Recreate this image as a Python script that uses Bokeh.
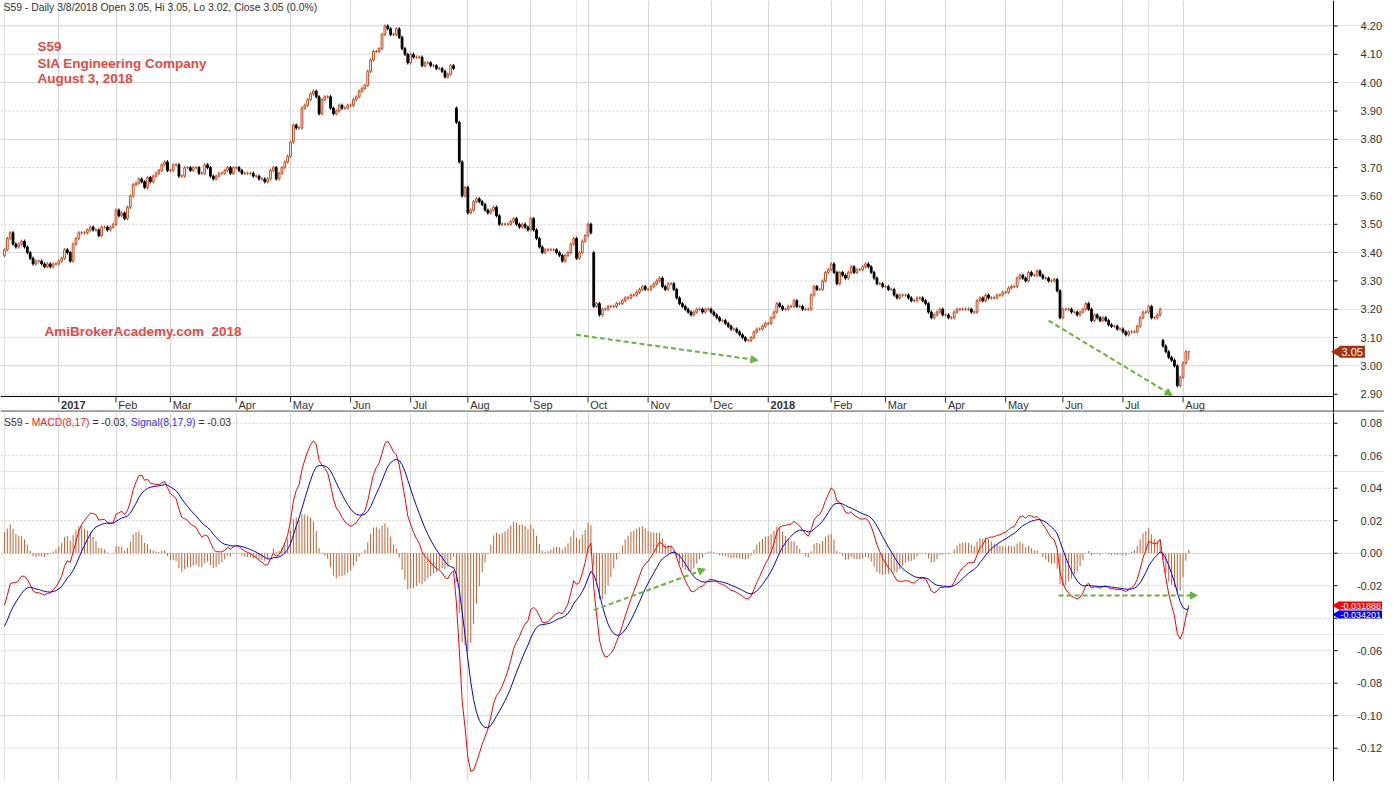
import numpy as np
from bokeh.plotting import figure
from bokeh.layouts import column
from bokeh.models import (Range1d, FixedTicker, Grid, Label, Arrow, NormalHead, ColumnDataSource)
from bokeh.core.properties import value
from bokeh.embed import file_html
from bokeh.resources import INLINE

# ---------------- data (daily closes, by month) ----------------
dec16 = [3.41, 3.45, 3.47, 3.43, 3.42, 3.43, 3.44, 3.42, 3.40, 3.38, 3.36, 3.37, 3.37, 3.36, 3.35, 3.36, 3.35, 3.36, 3.36]
jan17 = [3.37, 3.38, 3.41, 3.40, 3.37, 3.43, 3.45, 3.47, 3.47, 3.47, 3.48, 3.49, 3.48, 3.48, 3.46, 3.49, 3.49, 3.48, 3.49, 3.50]
feb17 = [3.55, 3.53, 3.54, 3.52, 3.56, 3.60, 3.64, 3.645, 3.66, 3.65, 3.63, 3.665, 3.65, 3.67, 3.68, 3.69, 3.71, 3.72, 3.69]
mar17 = [3.69, 3.71, 3.71, 3.67, 3.67, 3.70, 3.70, 3.69, 3.70, 3.70, 3.68, 3.68, 3.71, 3.70, 3.67, 3.66, 3.67, 3.68, 3.68, 3.69, 3.70, 3.68, 3.70]
apr17 = [3.70, 3.69, 3.68, 3.68, 3.68, 3.68, 3.67, 3.67, 3.66, 3.66, 3.65, 3.66, 3.69, 3.70, 3.66, 3.68, 3.70, 3.72, 3.74]
may17 = [3.79, 3.85, 3.84, 3.84, 3.91, 3.92, 3.94, 3.96, 3.97, 3.95, 3.89, 3.94, 3.95, 3.95, 3.91, 3.89, 3.90, 3.92, 3.91, 3.91, 3.92]
jun17 = [3.92, 3.94, 3.95, 3.97, 3.98, 3.99, 4.04, 4.08, 4.11, 4.11, 4.12, 4.17, 4.20, 4.19, 4.17, 4.17, 4.19, 4.16, 4.12, 4.10, 4.07]
jul17 = [4.10, 4.09, 4.09, 4.09, 4.06, 4.07, 4.07, 4.06, 4.06, 4.05, 4.05, 4.04, 4.02, 4.03, 4.06, 4.05, 3.86, 3.72, 3.60, 3.63]
aug17 = [3.54, 3.55, 3.58, 3.59, 3.58, 3.57, 3.55, 3.54, 3.55, 3.56, 3.53, 3.50, 3.50, 3.50, 3.50, 3.51, 3.52, 3.50, 3.49, 3.50, 3.49, 3.48]
sep17 = [3.52, 3.48, 3.45, 3.42, 3.40, 3.41, 3.41, 3.41, 3.41, 3.40, 3.39, 3.37, 3.39, 3.40, 3.43, 3.45, 3.38, 3.40, 3.44, 3.46]
oct17 = [3.50, 3.47, 3.21, 3.22, 3.18, 3.20, 3.20, 3.21, 3.21, 3.21, 3.22, 3.22, 3.23, 3.24, 3.24, 3.25, 3.25, 3.26, 3.27, 3.28, 3.27]
nov17 = [3.27, 3.28, 3.29, 3.30, 3.31, 3.28, 3.27, 3.29, 3.29, 3.27, 3.24, 3.22, 3.21, 3.20, 3.19, 3.18, 3.19, 3.20, 3.20, 3.19, 3.20, 3.20]
dec17 = [3.19, 3.18, 3.17, 3.16, 3.16, 3.15, 3.14, 3.13, 3.13, 3.12, 3.11, 3.10, 3.09, 3.09, 3.10, 3.12, 3.13, 3.13, 3.14, 3.15]
jan18 = [3.15, 3.17, 3.19, 3.22, 3.21, 3.20, 3.20, 3.21, 3.21, 3.23, 3.21, 3.21, 3.20, 3.20, 3.20, 3.25, 3.28, 3.27, 3.27, 3.30, 3.33, 3.34]
feb18 = [3.36, 3.33, 3.29, 3.33, 3.32, 3.31, 3.33, 3.35, 3.33, 3.34, 3.34, 3.35, 3.36, 3.35, 3.33, 3.31, 3.29, 3.29, 3.28]
mar18 = [3.28, 3.27, 3.27, 3.25, 3.24, 3.25, 3.25, 3.25, 3.24, 3.23, 3.23, 3.24, 3.24, 3.23, 3.22, 3.19, 3.17, 3.18, 3.19, 3.20, 3.18]
apr18 = [3.18, 3.17, 3.17, 3.19, 3.20, 3.20, 3.20, 3.20, 3.20, 3.19, 3.19, 3.23, 3.24, 3.23, 3.25, 3.24, 3.24, 3.24, 3.25, 3.25, 3.26]
may18 = [3.26, 3.275, 3.28, 3.28, 3.31, 3.32, 3.31, 3.30, 3.33, 3.32, 3.32, 3.335, 3.32, 3.31, 3.31, 3.30, 3.30, 3.305, 3.265, 3.17]
jun18 = [3.20, 3.20, 3.20, 3.19, 3.19, 3.18, 3.19, 3.20, 3.22, 3.20, 3.16, 3.18, 3.17, 3.16, 3.17, 3.16, 3.145, 3.14, 3.14, 3.13, 3.13]
jul18 = [3.12, 3.11, 3.12, 3.12, 3.12, 3.14, 3.17, 3.19, 3.19, 3.21, 3.17, 3.17, 3.18, 3.20, 3.07, 3.05, 3.03, 3.02, 3.00, 2.93, 2.96]
aug18 = [3.01, 3.05, 3.05]

month_labels = ["2017", "Feb", "Mar", "Apr", "May", "Jun", "Jul", "Aug", "Sep", "Oct", "Nov", "Dec",
                "2018", "Feb", "Mar", "Apr", "May", "Jun", "Jul", "Aug"]
year_labels = ["2017", "2018"]

FIRST_OPEN = 3.39
GAP_OPENS = {158: 3.91, 206: 3.40, 405: 3.09}   # opening gaps seen on the chart
LAST_LOW = 3.02                                 # last bar: O 3.05 H 3.05 L 3.02 C 3.05
WICK = 0.006

# MACD(8,17) / Signal(9) start state, read from the left edge of the lower pane
EMA17_START = 3.46
MACD_START = -0.032
SIGNAL_START = -0.045

price_ticks = [2.90, 3.00, 3.10, 3.20, 3.30, 3.40, 3.50, 3.60, 3.70, 3.80, 3.90, 4.00, 4.10, 4.20]
macd_ticks = [-0.12, -0.10, -0.08, -0.06, -0.04, -0.02, 0.00, 0.02, 0.04, 0.06, 0.08]
macd_hidden_labels = [-0.04]          # covered by the value tags in the reference
LAST_MACD_TEXT = "-0.031888"
LAST_SIGNAL_TEXT = "-0.034201"

# annotation arrows (bar index, value)
top_arrows = [((199.8, 3.11), (263.4, 3.02)), ((365.0, 3.16), (408.2, 2.896))]
macd_arrows = [((206.0, -0.035), (245.0, -0.0098)), ((368.5, -0.026), (417.0, -0.026))]

# ---------------- derived series ----------------
months = [dec16, jan17, feb17, mar17, apr17, may17, jun17, jul17, aug17, sep17, oct17, nov17,
          dec17, jan18, feb18, mar18, apr18, may18, jun18, jul18, aug18]
closes = [c for m in months for c in m]
n = len(closes)
idx = list(range(n))
month_starts = [int(v) for v in np.cumsum([len(m) for m in months])[:-1]]

opens = [FIRST_OPEN] + closes[:-1]
for k, v in GAP_OPENS.items():
    opens[k] = v
tops = [max(o, c) for o, c in zip(opens, closes)]
bots = [min(o, c) for o, c in zip(opens, closes)]
highs = [t + WICK for t in tops]
lows = [b - WICK for b in bots]
highs[-1] = tops[-1]
lows[-1] = LAST_LOW

a8, a17, a9 = 2 / 9, 2 / 18, 2 / 10
e17 = EMA17_START
e8 = e17 + MACD_START
sig = SIGNAL_START
macd, signal = [e8 - e17], [sig]
for c in closes[1:]:
    e8 += a8 * (c - e8)
    e17 += a17 * (c - e17)
    m = e8 - e17
    sig += a9 * (m - sig)
    macd.append(m)
    signal.append(sig)
hist = [m - s for m, s in zip(macd, signal)]

# ---------------- geometry / style ----------------
FONT = "Liberation Sans"
UPC = "#c8481e"
HISTC = "#c8602e"
GREEN = "#6ab43a"
RED = "#ee4545"
W = 1384
AXW = 51                      # width of the price-scale column on the right
X0, X1 = -1.38, 464.6         # bar-index range of the plotting area
ppu = (W - AXW) / (X1 - X0)   # pixels per bar
XE = X0 + W / ppu             # right edge of the canvas in bar units


def px2x(px):
    return X0 + px / ppu


TOP_H, STRIP_H = 396, 16
P_LO, P_HI = 2.892, 4.29
p_ppu = TOP_H / (P_HI - P_LO)
P_STRIP = P_LO - STRIP_H / p_ppu


def price_scale(p, ticks, lo, hi, fmt, hidden=()):
    k = len(ticks)
    p.segment(x0=[X0] * k, y0=ticks, x1=[X1] * k, y1=ticks, line_color="#cdcdcd",
              line_width=1, line_dash="2 2")
    return lambda: _axis(p, ticks, lo, hi, fmt, hidden)


def _axis(p, ticks, lo, hi, fmt, hidden):
    k = len(ticks)
    p.segment(x0=[X1], y0=[lo], x1=[X1], y1=[hi], line_color="black", line_width=1)
    p.segment(x0=[X1] * k, y0=ticks, x1=[X1 + 4 / ppu] * k, y1=ticks, line_color="black", line_width=1)
    shown = [t for t in ticks if all(abs(t - h) > 1e-9 for h in hidden)]
    p.text(x=[X1 + 48.5 / ppu] * len(shown), y=shown, text=[fmt % t for t in shown],
           text_font=value(FONT), text_font_size="11px", text_color="#333333",
           text_align="right", text_baseline="middle")


def tag(p, y, txt, col, fsize, pad, tri):
    p.scatter(x=[X1 + 4 / ppu], y=[y], marker="triangle", angle=np.pi / 2, size=tri,
              fill_color=col, line_color=col)
    p.add_layout(Label(x=X1 + 6 / ppu, y=y, text=txt, text_font=FONT, text_font_size="%gpx" % fsize,
                       text_color="white", text_baseline="middle", text_align="left",
                       background_fill_color=col, padding=pad))


# ---------------- price pane (with date strip underneath) ----------------
top = figure(width=W, height=TOP_H + STRIP_H, x_range=Range1d(X0, XE), y_range=Range1d(P_STRIP, P_HI),
             x_axis_location=None, y_axis_location=None, toolbar_location=None,
             output_backend="svg", min_border=0)
top.outline_line_color = None
top.add_layout(Grid(dimension=0, ticker=FixedTicker(ticks=month_starts),
                    grid_line_color="#d6d6d6", grid_line_width=1))
finish_top = price_scale(top, price_ticks, P_STRIP, P_HI, "%.2f")

up = [i for i in idx if closes[i] >= opens[i]]
dn = [i for i in idx if closes[i] < opens[i]]
src_up = ColumnDataSource(dict(x=up, t=[tops[i] for i in up], b=[bots[i] for i in up],
                               h=[highs[i] for i in up], l=[lows[i] for i in up]))
src_dn = ColumnDataSource(dict(x=dn, t=[tops[i] for i in dn], b=[bots[i] for i in dn],
                               h=[highs[i] for i in dn], l=[lows[i] for i in dn]))
top.segment(x0="x", y0="l", x1="x", y1="h", source=src_up, line_color=UPC, line_width=1)
top.segment(x0="x", y0="l", x1="x", y1="h", source=src_dn, line_color="black", line_width=1)
top.vbar(x="x", width=0.62, top="t", bottom="b", source=src_up, fill_color="white",
         line_color=UPC, line_width=1)
top.vbar(x="x", width=0.62, top="t", bottom="b", source=src_dn, fill_color="black",
         line_color="black", line_width=1)

for (xs, ys), (xe, ye) in top_arrows:
    top.add_layout(Arrow(end=NormalHead(size=7, fill_color=GREEN, line_color=GREEN),
                         x_start=xs, y_start=ys, x_end=xe, y_end=ye,
                         line_color=GREEN, line_width=2, line_dash="5 3"))

# date strip
top.quad(left=[X0], right=[X1], bottom=[P_STRIP], top=[P_LO], fill_color="white", line_color=None)
top.segment(x0=[X0], y0=[P_LO], x1=[X1], y1=[P_LO], line_color="black", line_width=1.2)
top.segment(x0=[X0], y0=[P_STRIP + 1.2 / p_ppu], x1=[XE], y1=[P_STRIP + 1.2 / p_ppu],
            line_color="#9a9a9a", line_width=2)
ms = len(month_starts)
top.segment(x0=month_starts, y0=[P_LO] * ms, x1=month_starts, y1=[P_LO - 6 / p_ppu] * ms,
            line_color="#333333", line_width=1)
m_norm = [(s, t) for s, t in zip(month_starts, month_labels) if t not in year_labels]
m_year = [(s, t) for s, t in zip(month_starts, month_labels) if t in year_labels]
ylab = P_LO - 8.5 / p_ppu
top.text(x=[s + 0.8 for s, _ in m_norm], y=[ylab] * len(m_norm), text=[t for _, t in m_norm],
         text_font=value(FONT), text_font_size="11px", text_color="#333333",
         text_baseline="middle", text_align="left")
top.text(x=[s + 0.8 for s, _ in m_year], y=[ylab] * len(m_year), text=[t for _, t in m_year],
         text_font=value(FONT), text_font_size="11px", text_font_style="bold",
         text_color="#333333", text_baseline="middle", text_align="left")
finish_top()

top.add_layout(Label(x=px2x(3), y=4.266, text="S59 - Daily 3/8/2018 Open 3.05, Hi 3.05, Lo 3.02, Close 3.05 (0.0%)",
                     text_font=FONT, text_font_size="10.4px", text_color="#333333", text_baseline="middle"))
for txt, yy in [("S59", 4.127), ("SIA Engineering Company", 4.069), ("August 3, 2018", 4.013)]:
    top.add_layout(Label(x=px2x(37), y=yy, text=txt, text_font=FONT, text_font_size="13.5px",
                         text_font_style="bold", text_color=RED, text_baseline="middle"))
top.add_layout(Label(x=px2x(44), y=3.12, text="AmiBrokerAcademy.com\u00a0\u00a02018", text_font=FONT,
                     text_font_size="13.5px", text_font_style="bold", text_color=RED,
                     text_baseline="middle"))
tag(top, closes[-1], "%.2f" % closes[-1], "#a8300c", 11, 2, 10)

# ---------------- MACD pane ----------------
M_LO, M_HI = -0.1405, 0.0866
BOT_H = 369
m_ppu = BOT_H / (M_HI - M_LO)
bot = figure(width=W, height=BOT_H, x_range=top.x_range, y_range=Range1d(M_LO, M_HI),
             x_axis_location=None, y_axis_location=None, toolbar_location=None,
             output_backend="svg", min_border=0)
bot.outline_line_color = None
bot.add_layout(Grid(dimension=0, ticker=FixedTicker(ticks=month_starts),
                    grid_line_color="#d6d6d6", grid_line_width=1))
finish_bot = price_scale(bot, macd_ticks, M_LO, M_HI, "%.2f", macd_hidden_labels)
bot.segment(x0=idx, y0=[0] * n, x1=idx, y1=hist, line_color=HISTC, line_width=1)
bot.line(idx, macd, line_color="#ff0000", line_width=1)
bot.line(idx, signal, line_color="#0000ff", line_width=1)

for (xs, ys), (xe, ye) in macd_arrows:
    bot.add_layout(Arrow(end=NormalHead(size=7, fill_color=GREEN, line_color=GREEN),
                         x_start=xs, y_start=ys, x_end=xe, y_end=ye,
                         line_color=GREEN, line_width=2, line_dash="5 3"))
finish_bot()

hy = 0.0807
for txt, xpx, col in [("S59\u00a0-\u00a0", 3.5, "#333333"), ("MACD(8,17)", 31.2, "#ff2020"),
                      ("\u00a0=\u00a0-0.03,\u00a0", 89.0, "#333333"), ("Signal(8,17,9)", 130.3, "#3030ff"),
                      ("\u00a0=\u00a0-0.03", 195.0, "#333333")]:
    bot.add_layout(Label(x=px2x(xpx), y=hy, text=txt, text_font=FONT, text_font_size="10.4px",
                         text_color=col, text_baseline="middle"))
tag(bot, macd[-1], LAST_MACD_TEXT, "#ff0000", 9, 1, 8)
tag(bot, min(signal[-1], macd[-1] - 9 / m_ppu), LAST_SIGNAL_TEXT, "#0000ff", 9, 1, 8)

layout = column(top, bot, spacing=0)
open("out.html", "w").write(file_html(layout, INLINE))
